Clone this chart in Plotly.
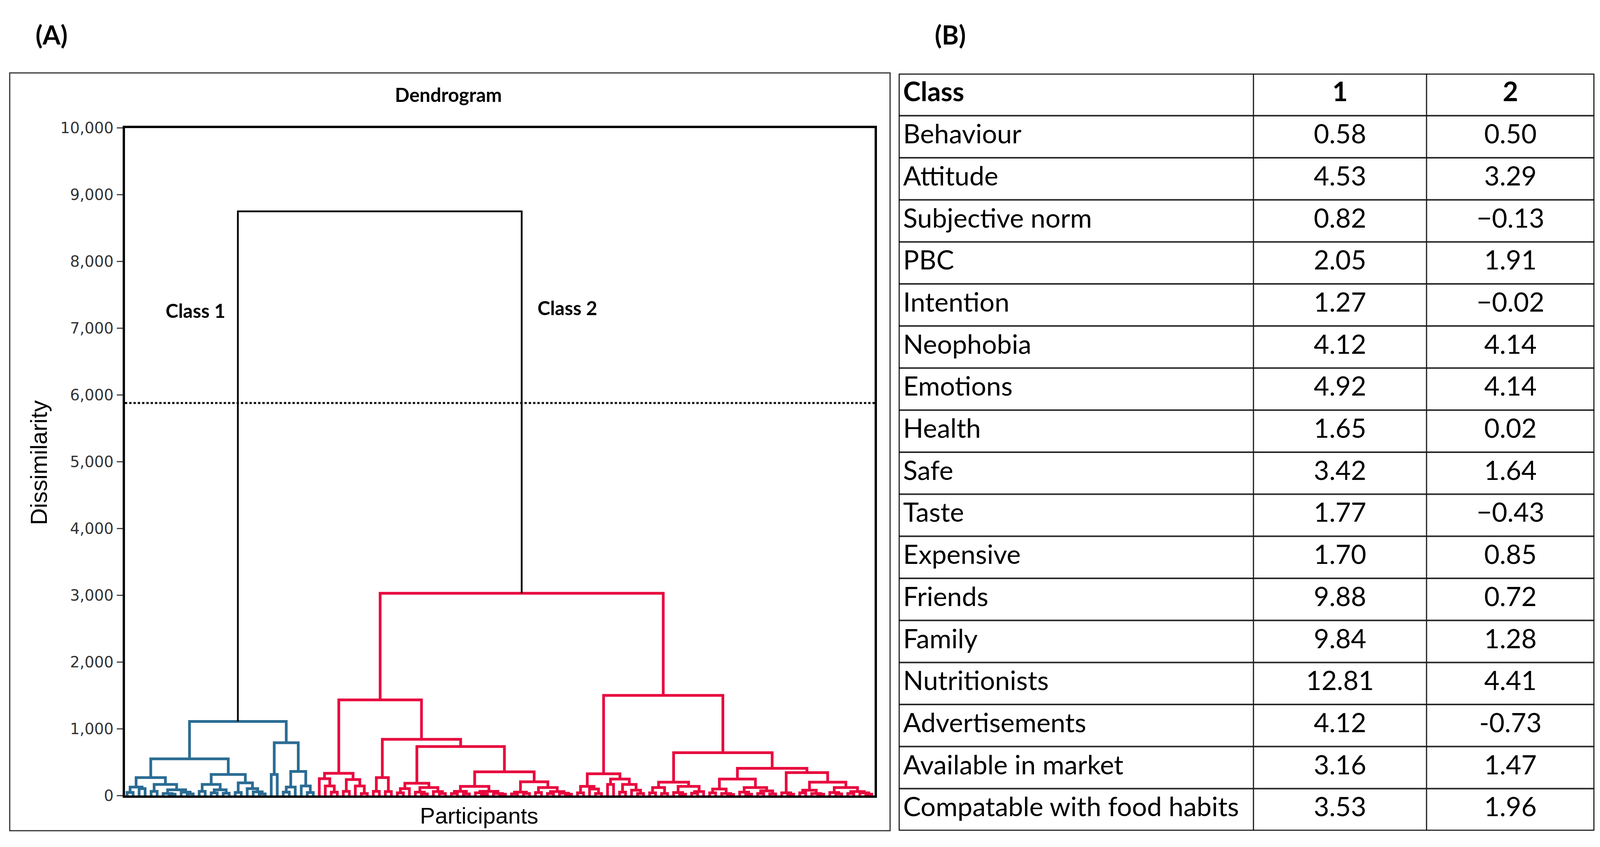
import plotly.graph_objects as go

# ---------- (A) dendrogram: merge heights ----------
root_height = 8750
class1_height = 1110
class2_height = 3030
cut_height = 5880

# every node is [height, left, right]; 0 stands for one participant
class1_left = [550,
               [269,
                [126, [46, 0, 0], [103, 0, 0]],
                [166, [63, 0, 0], [86, [30, 0, [20, 0, 0]], [50, 0, [25, 0, 0]]]]],
               [315,
                [166, [63, 0, 0], [86, [40, 0, 0], [35, 0, 0]]],
                [189, [46, 0, 0], [103, 0, [55, 0, [25, 0, 0]]]]]]
class1_right = [790,
                [315, 0, 0],
                [360, [126, [50, 0, 0], 0], [143, 0, [45, 0, 0]]]]

class2_ll = [333,
             [253, 0, [143, 0, [50, 0, 0]]],
             [240, [63, 0, 0], [143, 0, [30, 0, 0]]]]
class2_lr = [842,
             [269, [63, 0, 0], [60, 0, 0]],
             [733,
              [183, [103, [40, 0, 0], 0], [120, [50, 0, [25, 0, 0]], [60, 0, [30, 0, 0]]]],
              [355,
               [137, [63, [30, 0, 0], [25, 0, 0]], [63, [40, 0, [20, 0, 0]], [30, 0, [20, 0, 0]]]],
               [206, [50, [25, 0, 0], [30, 0, 0]],
                [120, [45, 0, 0], [60, [30, 0, 0], [35, 0, [20, 0, 0]]]]]]]]
class2_rl = [326,
             [137, [40, 0, 0], [97, 0, [30, 0, 0]]],
             [246, [166, 0, 0], [166, [50, 0, 0], [80, 0, [30, 0, 0]]]]]
class2_rr = [641,
             [200, [120, [40, 0, 0], [30, 0, 0]], [137, [45, 0, [20, 0, 0]], [60, [35, 0, 0], 0]]],
             [407,
              [246, [97, [40, 0, 0], [30, 0, [15, 0, 0]]], [120, [50, 0, [20, 0, 0]], [70, [30, 0, 0], [25, 0, 0]]]],
              [343, [40, 0, [20, 0, 0]],
               [200, [80, [40, 0, 0], [30, 0, [20, 0, 0]]],
                [120, [45, 0, [25, 0, 0]], [60, [30, 0, 0], [40, 0, [20, 0, 0]]]]]]]]

class1 = [class1_height, class1_left, class1_right]
class2 = [class2_height, [1432, class2_ll, class2_lr], [1500, class2_rl, class2_rr]]

# ---------- (B) table ----------
header = ['Class', '1', '2']
factors = ['Behaviour', 'Attitude', 'Subjective norm', 'PBC', 'Intention', 'Neophobia',
           'Emotions', 'Health', 'Safe', 'Taste', 'Expensive', 'Friends', 'Family',
           'Nutritionists', 'Advertisements', 'Available in market',
           'Compatable with food habits']
class1_means = ['0.58', '4.53', '0.82', '2.05', '1.27', '4.12', '4.92', '1.65', '3.42',
                '1.77', '1.70', '9.88', '9.84', '12.81', '4.12', '3.16', '3.53']
class2_means = ['0.50', '3.29', '−0.13', '1.91', '−0.02', '4.14', '4.14', '0.02', '1.64',
                '−0.43', '0.85', '0.72', '1.28', '4.41', '-0.73', '1.47', '1.96']

BLUE = '#2b6c94'
RED = '#e8083e'

# the page is 4096 px wide with an 8 px body margin; layout was measured on a 4280 wide image
SX = 4096 / 4280
FW, FH = 4080, 2153


def px(x):
    return (x * SX - 8) / FW


def py(y):
    return 1 - (y - 8) / FH


leaf_counter = [0]


def draw(node, xs, ys):
    # walks the tree left to right, adds the bracket lines, returns (x, height)
    if node == 0:
        x = leaf_counter[0]
        leaf_counter[0] += 1
        return x, 0
    h, left, right = node
    xl, hl = draw(left, xs, ys)
    xr, hr = draw(right, xs, ys)
    xs += [xl, xl, xr, xr, None]
    ys += [hl, h, h, hr, None]
    return (xl + xr) / 2, h


blue_x, blue_y, red_x, red_y = [], [], [], []
x1, h1 = draw(class1, blue_x, blue_y)
x2, h2 = draw(class2, red_x, red_y)
n_leaves = leaf_counter[0]

fig = go.Figure()
fig.add_trace(go.Scatter(x=blue_x, y=blue_y, mode='lines', line=dict(color=BLUE, width=7),
                         hoverinfo='skip'))
fig.add_trace(go.Scatter(x=red_x, y=red_y, mode='lines', line=dict(color=RED, width=7),
                         hoverinfo='skip'))
fig.add_trace(go.Scatter(x=[x1, x1, x2, x2], y=[h1, root_height, root_height, h2],
                         mode='lines', line=dict(color='black', width=4.5), hoverinfo='skip'))

# table drawn on its own axes: columns in table pixels, one unit per row
col_edges = [0, 949, 1412, 1861]
n_rows = len(factors) + 1
rows = [r + 0.5 for r in range(n_rows)]
table_font = dict(family='Lato', size=68, color='black')
first_col = ['<b>' + header[0] + '</b>'] + factors
second_col = ['<b>' + header[1] + '</b>'] + class1_means
third_col = ['<b>' + header[2] + '</b>'] + class2_means
fig.add_trace(go.Scatter(x=[col_edges[0] + 12] * n_rows, y=rows, text=first_col,
                         mode='text', textposition='middle right', textfont=table_font,
                         xaxis='x2', yaxis='y2', hoverinfo='skip'))
fig.add_trace(go.Scatter(x=[(col_edges[1] + col_edges[2]) / 2] * n_rows, y=rows, text=second_col,
                         mode='text', textposition='middle center', textfont=table_font,
                         xaxis='x2', yaxis='y2', hoverinfo='skip'))
fig.add_trace(go.Scatter(x=[(col_edges[2] + col_edges[3]) / 2] * n_rows, y=rows, text=third_col,
                         mode='text', textposition='middle center', textfont=table_font,
                         xaxis='x2', yaxis='y2', hoverinfo='skip'))

grid = []
for r in range(1, n_rows):
    grid.append(dict(type='line', xref='x2', yref='y2', x0=col_edges[0], x1=col_edges[-1],
                     y0=r, y1=r, line=dict(color='#2a2a2a', width=4)))
for c in col_edges[1:-1]:
    grid.append(dict(type='line', xref='x2', yref='y2', x0=c, x1=c, y0=0, y1=n_rows,
                     line=dict(color='#1a1a1a', width=3)))
grid.append(dict(type='rect', xref='x2', yref='y2', x0=col_edges[0], x1=col_edges[-1],
                 y0=0, y1=n_rows, line=dict(color='black', width=5)))

step = 1992 / (n_leaves - 1)
fig.update_layout(
    width=FW, height=FH,
    margin=dict(l=0, r=0, t=0, b=0),
    paper_bgcolor='white', plot_bgcolor='white',
    showlegend=False,
    xaxis=dict(domain=[px(334), px(2340)], range=[-6 / step, n_leaves - 1 + 8 / step],
               showline=True, mirror=True, linecolor='black', linewidth=6,
               showticklabels=False, ticks='', showgrid=False, zeroline=False),
    yaxis=dict(domain=[py(2058), py(312)], range=[0, 10000],
               showline=True, mirror=True, linecolor='black', linewidth=6,
               tickvals=list(range(0, 10001, 1000)), tickformat=',d',
               ticks='outside', ticklen=15, tickwidth=3, tickcolor='#444',
               tickfont=dict(family='DejaVu Sans', size=39, color='#333'),
               showgrid=False, zeroline=False),
    xaxis2=dict(domain=[px(2404), px(4265)], range=[col_edges[0], col_edges[-1]],
                visible=False, anchor='y2'),
    yaxis2=dict(domain=[py(2150), py(170)], range=[n_rows, 0],
                visible=False, anchor='x2'),
    shapes=[
        dict(type='line', xref='x domain', yref='y', x0=0, x1=1, y0=cut_height, y1=cut_height,
             line=dict(color='black', width=5, dash='6px,5px')),
        dict(type='rect', xref='paper', yref='paper', x0=px(26), x1=px(2381),
             y0=py(2150), y1=py(168), line=dict(color='#333', width=3)),
    ] + grid,
)

labels = [
    ('<b>(A)</b>', 138, 68, 'Lato', 66, 0),
    ('<b>(B)</b>', 2542, 68, 'Lato', 66, 0),
    ('<b>Dendrogram</b>', 1200, 225, 'Lato', 49, 0),
    ('<b>Class 1</b>', 523, 789, 'Lato', 49, 0),
    ('<b>Class 2</b>', 1518, 782, 'Lato', 49, 0),
    ('Participants', 1282, 2110, 'Liberation Sans', 58, 0),
    ('Dissimilarity', 104, 1188, 'Liberation Sans', 60, -90),
]
for text, lx, ly, family, size, angle in labels:
    fig.add_annotation(text=text, xref='paper', yref='paper', x=px(lx), y=py(ly),
                       xanchor='center', yanchor='middle', showarrow=False, textangle=angle,
                       font=dict(family=family, size=size, color='black'))

fig.write_html('out.html')
